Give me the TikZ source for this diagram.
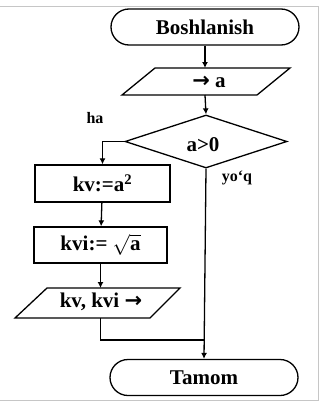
\documentclass[tikz,border=0pt]{standalone}
\usepackage{fontspec}
\setmainfont{Liberation Serif}
\newfontfamily\arrowfont{DejaVu Sans}
\usetikzlibrary{shapes.geometric,shapes.misc,arrows.meta}

\newcommand{\outarrow}{{\arrowfont\bfseries →}}

\tikzset{
  every node/.style={font=\bfseries\fontsize{21}{24}\selectfont},
  term/.style={draw, line width=1.3pt, rounded rectangle, minimum width=188pt, minimum height=36pt, inner sep=0pt},
  proc/.style={draw, line width=1.3pt, rectangle, inner sep=0pt},
  cond/.style={draw, line width=1.3pt, diamond, minimum width=162pt, minimum height=53pt, inner sep=0pt},
  shape line/.style={line width=1.3pt, line join=miter},
  flow/.style={line width=1.3pt, -{Latex[length=6pt,width=6pt]}},
  lbl/.style={font=\bfseries\fontsize{16}{18}\selectfont, inner sep=0pt}
}

\begin{document}
\begin{tikzpicture}[x=1pt,y=1pt,yscale=-1]
    \useasboundingbox (0,0) rectangle (323,407);

    %frame round the chart
    \draw [gray!45, line width=0.8pt] (0,6) -- (318,6) -- (318,400) -- (0,400);

    %Start / end
    \node [term] (start) at (205,27) {Boshlanish};
    \node [term] (stop) at (204,377.5) {Tamom};

    %Input a
    \draw [shape line] (155,68) -- (290,68) -- (257,95) -- (122,95) -- cycle;
    \coordinate (inptop) at (205,68);
    \coordinate (inpbot) at (205,95);
    \node (inp) at (209,82) {\outarrow{} a};

    %Condition
    \node [cond] (dec) at (206,141.5) {};
    \node (dectxt) at (203,145) {a>0};
    \node [lbl] (yes) at (95,118) {ha};
    \node [lbl] (no) at (237,178) {yo‘q};

    %Processes
    \node [proc, minimum width=135pt, minimum height=37pt] (sq) at (102.5,183.5) {kv:=a\textsuperscript{2}};
    \node [proc, minimum width=133pt, minimum height=36pt] (rt) at (100.5,245) {kvi:= $\sqrt{\mbox{a}}$};

    %Output
    \draw [shape line] (47,288) -- (180,288) -- (150,318) -- (15,318) -- cycle;
    \coordinate (outtop) at (100.5,288);
    \coordinate (outbot) at (100.5,318);
    \node (outp) at (101,302) {kv, kvi \outarrow};

    \coordinate (join) at (204,340);

    %Connectors
    \draw [flow] (start) -- (inptop);
    \draw [flow] (inpbot) -- (dec.north);
    \draw [flow] (dec.west) -| (sq.north);
    \draw [flow] (sq) -- (rt);
    \draw [flow] (rt.south) -- (outtop);
    \draw [line width=1.3pt] (outbot) |- (join);
    \draw [flow] (dec.south) -- (stop.north);

\end{tikzpicture}
\end{document}
